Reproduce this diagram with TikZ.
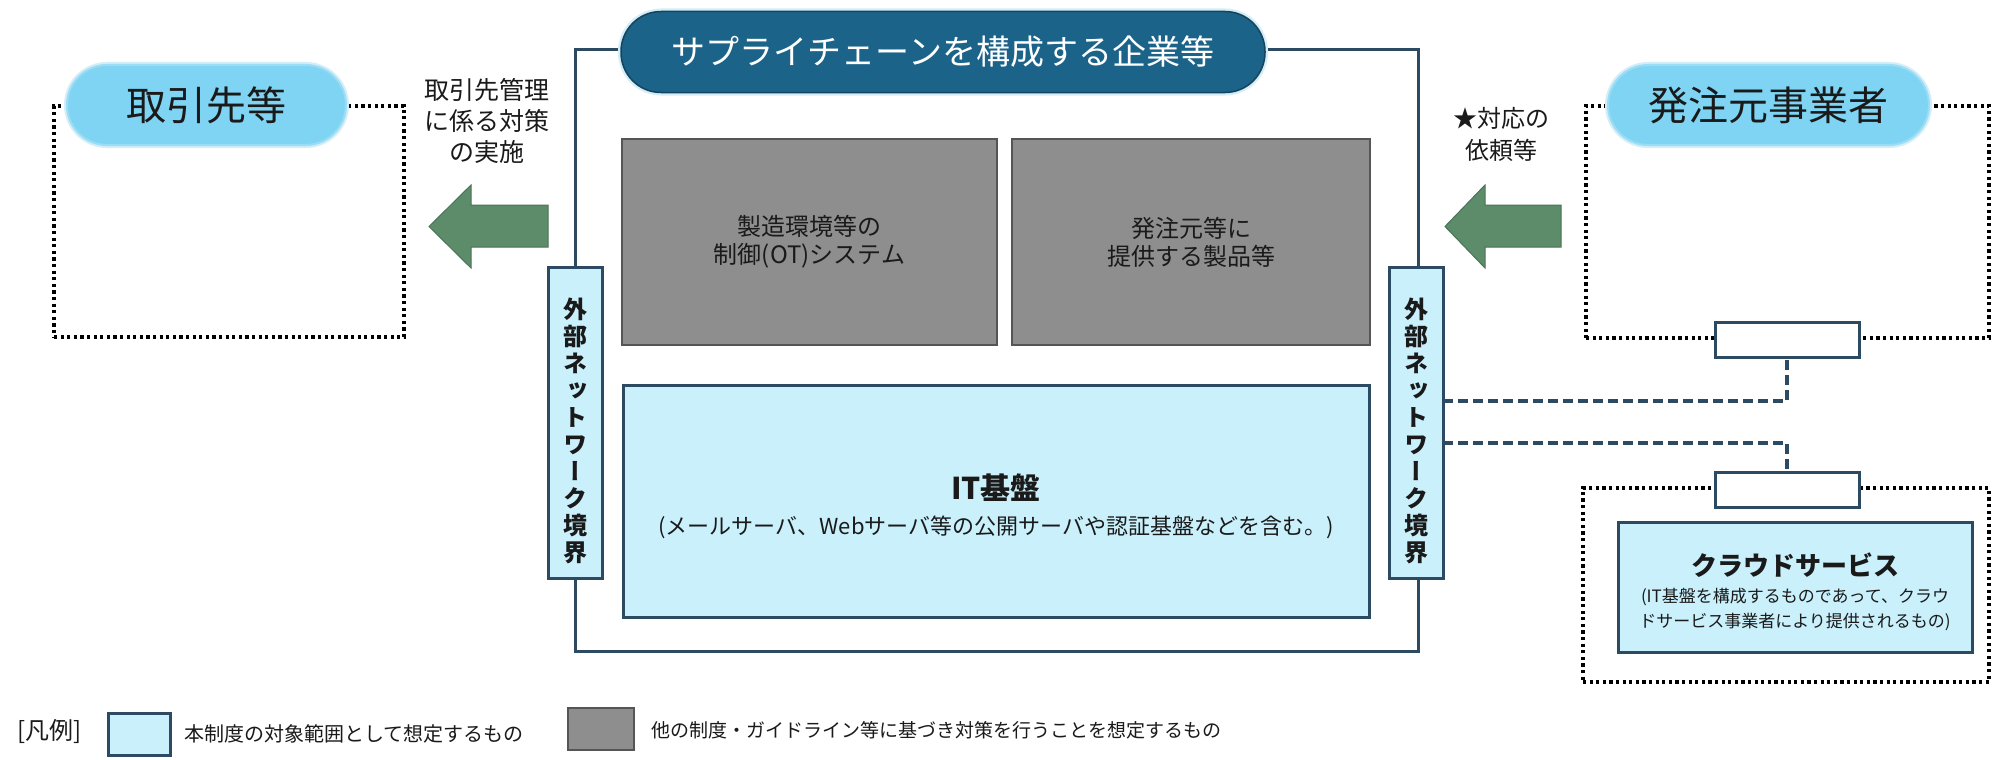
\documentclass[tikz,border=0pt]{standalone}
\usepackage{fontspec}
\setmainfont{Noto Sans CJK JP}
\newfontfamily\jpv{Noto Sans CJK JP}[RawFeature=+vert]
\usetikzlibrary{calc}
\definecolor{navy}{HTML}{2C4A62}
\definecolor{pilldark}{HTML}{1B6389}
\definecolor{pilldarkb}{HTML}{17435C}
\definecolor{pilllight}{HTML}{7FD4F4}
\definecolor{pilllightb}{HTML}{9ADDF5}
\definecolor{glowc}{HTML}{D3EEF8}
\definecolor{cyanfill}{HTML}{C9F0FB}
\definecolor{grayfill}{HTML}{8E8E8E}
\definecolor{grayline}{HTML}{555555}
\definecolor{arrowg}{HTML}{5C8C69}
\definecolor{arrowb}{HTML}{4A7456}
\definecolor{txt}{HTML}{1A1A1A}
\newcommand{\fs}[2]{\fontsize{#1}{#2}\selectfont}
\begin{document}
\begin{tikzpicture}[x=1pt,y=-1pt,
  every node/.style={inner sep=0pt, outer sep=0pt, text=txt},
  frameline/.style={draw=navy, line width=3pt},
  itbox/.style={draw=navy, fill=cyanfill, line width=3pt},
  graybox/.style={draw=grayline, fill=grayfill, line width=2pt},
  darkpill/.style={fill=pilldark, draw=pilldarkb, line width=1.5pt, rounded corners=40pt,
     preaction={draw=glowc, line width=6pt, rounded corners=40pt}},
  lightpill/.style={fill=pilllight, draw=pilllightb, line width=2pt, rounded corners=40pt,
     preaction={draw=glowc, line width=6pt, rounded corners=40pt}},
  dotbox/.style={draw=black, line width=3.2pt, dash pattern=on 3.2pt off 3.4pt},
  smallbox/.style={draw=navy, fill=white, line width=3pt},
  dashline/.style={draw=navy, line width=3.2pt, dash pattern=on 10pt off 5pt},
  blockarrow/.style={fill=arrowg, draw=arrowb, line width=1pt, line join=miter},
  vtext/.style={align=center, font=\jpv\bfseries\fs{24}{27}},
]
\useasboundingbox[fill=white] (0,0) rectangle (2000,760);

% main frame
\node[frameline, minimum width=843pt, minimum height=601pt] (frame) at (996.5,350.5) {};

% dotted boxes
\node[dotbox, minimum width=350pt, minimum height=231pt] (ldot) at (229,221.5) {};
\node[dotbox, minimum width=403pt, minimum height=232pt] (rdot) at (1787.5,222) {};
\node[dotbox, minimum width=406pt, minimum height=194pt] (cdot) at (1786,585) {};

% pills
\node[darkpill, minimum width=644pt, minimum height=81pt, text=white, font=\fs{34}{40}] (title) at (943,52) {サプライチェーンを構成する企業等};
\node[lightpill, minimum width=279pt, minimum height=80pt, font=\fs{40}{46}] (lpill) at (206.5,105) {取引先等};
\node[lightpill, minimum width=321pt, minimum height=80pt, font=\fs{40}{46}] (rpill) at (1768.5,105) {発注元事業者};

% gray boxes
\node[graybox, minimum width=375pt, minimum height=206pt, align=center, font=\fs{24}{28}] (ot) at (809.5,242) {製造環境等の\\制御(OT)システム};
\node[graybox, minimum width=358pt, minimum height=206pt, align=center, font=\fs{24}{28}] (prod) at (1191,242) {発注元等に\\提供する製品等};

% IT base
\node[itbox, minimum width=746pt, minimum height=232pt] (it) at (996,501) {};
\node[font=\bfseries\fs{30}{34}] (ittitle) at (996,488) {IT基盤};
\node[font=\fs{22}{26}] (itsub) at (996,527) {(メールサーバ、Webサーバ等の公開サーバや認証基盤などを含む。)};

% external network boundaries
\node[itbox, minimum width=54pt, minimum height=311pt] (lext) at (575,422.5) {};
\node[itbox, minimum width=54pt, minimum height=311pt] (rext) at (1416,422.5) {};
\node[vtext] (lextt) at (575,431) {外\\部\\ネ\\ッ\\ト\\ワ\\ー\\ク\\境\\界};
\node[vtext] (rextt) at (1416,431) {外\\部\\ネ\\ッ\\ト\\ワ\\ー\\ク\\境\\界};

% small boxes and cloud
\node[smallbox, minimum width=144pt, minimum height=35pt] (sb1) at (1787,339.5) {};
\node[smallbox, minimum width=144pt, minimum height=35pt] (sb2) at (1787,489.5) {};
\node[itbox, minimum width=354pt, minimum height=130pt] (cloud) at (1795,587) {};
\node[font=\bfseries\fs{26}{30}] (cloudt) at (1795,565) {クラウドサービス};
\node[align=center, font=\fs{17}{25}] (clouds) at (1795,610) {(IT基盤を構成するものであって、クラウ\\ドサービス事業者により提供されるもの)};

% dashed connectors
\draw[dashline] ($(rext.east)+(0,-21.5)$) -| (sb1.south);
\draw[dashline] ($(rext.east)+(0,20.5)$) -| (sb2.north);

% block arrows
\path[blockarrow] (548,205) -- (471,205) -- (471,185) -- (429,226.5) -- (471,268) -- (471,247) -- (548,247) -- cycle;
\path[blockarrow] (1561,205) -- (1485,205) -- (1485,185) -- (1445,226.5) -- (1485,268) -- (1485,247) -- (1561,247) -- cycle;

% arrow labels
\node[align=center, font=\fs{25}{31}] (ltxt) at (487,121) {取引先管理\\に係る対策\\の実施};
\node[align=center, font=\fs{24}{32}] (rtxt) at (1501,134) {★対応の\\依頼等};

% legend
\node[anchor=west, font=\fs{24}{28}] (leg) at (17,732) {[凡例]};
\node[itbox, minimum width=62pt, minimum height=42pt] (legb1) at (139,734) {};
\node[anchor=west, font=\fs{20}{24}] (legt1) at (184,734) {本制度の対象範囲として想定するもの};
\node[graybox, minimum width=66pt, minimum height=42pt] (legb2) at (601,729) {};
\node[anchor=west, font=\fs{19}{24}] (legt2) at (651,730) {他の制度・ガイドライン等に基づき対策を行うことを想定するもの};
\end{tikzpicture}
\end{document}
